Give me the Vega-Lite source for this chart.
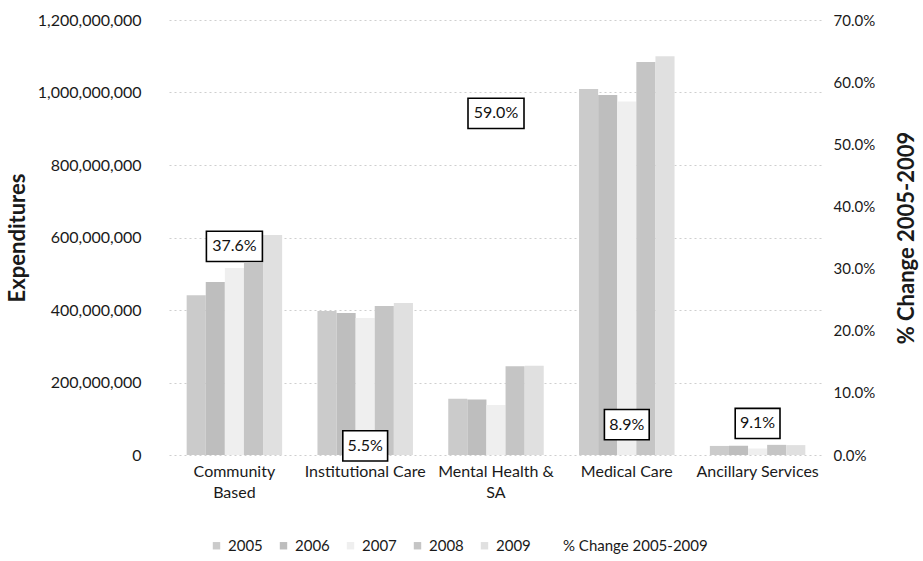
{
  "$schema": "https://vega.github.io/schema/vega-lite/v6.json",
  "autosize": {"type": "none"},
  "width": 654,
  "height": 435,
  "padding": {"left": 169, "top": 20, "right": 100, "bottom": 106},
  "background": "white",
  "config": {
    "font": "Lato",
    "view": {"stroke": null},
    "axis": {"labelColor": "#1a1a1a", "titleColor": "#1a1a1a", "ticks": false, "domain": false}
  },
  "datasets": {
    "spend": [
      {"category": "Community Based", "year": "2005", "amount": 441000000},
      {"category": "Community Based", "year": "2006", "amount": 477000000},
      {"category": "Community Based", "year": "2007", "amount": 516000000},
      {"category": "Community Based", "year": "2008", "amount": 530000000},
      {"category": "Community Based", "year": "2009", "amount": 607000000},
      {"category": "Institutional Care", "year": "2005", "amount": 397000000},
      {"category": "Institutional Care", "year": "2006", "amount": 392000000},
      {"category": "Institutional Care", "year": "2007", "amount": 378000000},
      {"category": "Institutional Care", "year": "2008", "amount": 411000000},
      {"category": "Institutional Care", "year": "2009", "amount": 419000000},
      {"category": "Mental Health & SA", "year": "2005", "amount": 155000000},
      {"category": "Mental Health & SA", "year": "2006", "amount": 153000000},
      {"category": "Mental Health & SA", "year": "2007", "amount": 138000000},
      {"category": "Mental Health & SA", "year": "2008", "amount": 245000000},
      {"category": "Mental Health & SA", "year": "2009", "amount": 246500000},
      {"category": "Medical Care", "year": "2005", "amount": 1010000000},
      {"category": "Medical Care", "year": "2006", "amount": 993000000},
      {"category": "Medical Care", "year": "2007", "amount": 975000000},
      {"category": "Medical Care", "year": "2008", "amount": 1084000000},
      {"category": "Medical Care", "year": "2009", "amount": 1100000000},
      {"category": "Ancillary Services", "year": "2005", "amount": 25000000},
      {"category": "Ancillary Services", "year": "2006", "amount": 25500000},
      {"category": "Ancillary Services", "year": "2007", "amount": 18000000},
      {"category": "Ancillary Services", "year": "2008", "amount": 28000000},
      {"category": "Ancillary Services", "year": "2009", "amount": 27300000}
    ],
    "change": [
      {"category": "Community Based", "pct": 0.376},
      {"category": "Institutional Care", "pct": 0.055},
      {"category": "Mental Health & SA", "pct": 0.59},
      {"category": "Medical Care", "pct": 0.089},
      {"category": "Ancillary Services", "pct": 0.091}
    ]
  },
  "encoding": {
    "x": {
      "field": "category",
      "type": "nominal",
      "sort": ["Community Based", "Institutional Care", "Mental Health & SA", "Medical Care", "Ancillary Services"],
      "scale": {"paddingInner": 0.27, "paddingOuter": 0.135},
      "axis": {
        "title": null,
        "labelAngle": 0,
        "labelFontSize": 16,
        "labelPadding": 8,
        "labelLineHeight": 21,
        "labelBaseline": "top",
        "labelExpr": "datum.label == 'Community Based' ? ['Community', 'Based'] : datum.label == 'Mental Health & SA' ? ['Mental Health &', 'SA'] : datum.label"
      }
    }
  },
  "layer": [
    {
      "data": {"name": "spend"},
      "mark": {"type": "bar"},
      "encoding": {
        "xOffset": {"field": "year", "type": "nominal", "scale": {"paddingInner": 0, "paddingOuter": 0}},
        "y": {
          "field": "amount",
          "type": "quantitative",
          "scale": {"domain": [0, 1200000000]},
          "axis": {
            "orient": "left",
            "title": "Expenditures",
            "titleFontSize": 22,
            "titleFontWeight": "bold",
            "titlePadding": 8,
            "format": ",.0f",
            "values": [0, 200000000, 400000000, 600000000, 800000000, 1000000000, 1200000000],
            "labelFontSize": 16,
            "labelPadding": 28,
            "grid": true,
            "gridColor": "#cfcfcf",
            "gridDash": [2, 3],
            "gridWidth": 1
          }
        },
        "color": {
          "field": "year",
          "type": "nominal",
          "scale": {
            "domain": ["2005", "2006", "2007", "2008", "2009", "% Change 2005-2009"],
            "range": ["#cbcbcb", "#bebebe", "#efefef", "#c5c5c5", "#e0e0e0", "#ffffff"]
          },
          "legend": {
            "title": null,
            "orient": "none",
            "legendX": 40,
            "legendY": 518,
            "direction": "horizontal",
            "symbolType": "square",
            "symbolSize": 55,
            "symbolStrokeWidth": 0,
            "labelFontSize": 15,
            "labelColor": "#1a1a1a",
            "columnPadding": 13
          }
        }
      }
    },
    {
      "data": {"name": "change"},
      "encoding": {
        "y": {
          "field": "pct",
          "type": "quantitative",
          "scale": {"domain": [0, 0.7]},
          "axis": {
            "orient": "right",
            "title": "% Change 2005-2009",
            "titleAngle": 270,
            "titleFontSize": 22,
            "titleFontWeight": "bold",
            "titlePadding": 44,
            "format": ".1%",
            "values": [0, 0.1, 0.2, 0.3, 0.4, 0.5, 0.6, 0.7],
            "labelFontSize": 15,
            "labelPadding": 10,
            "grid": false
          }
        }
      },
      "layer": [
        {
          "mark": {"type": "point", "filled": true, "fill": "white", "stroke": "black", "strokeWidth": 1.6, "opacity": 1, "size": 3136, "yOffset": 25},
          "encoding": {
            "shape": {
              "condition": {"test": "datum.pct >= 0.1", "value": "M-1,-0.54L1,-0.54L1,0.54L-1,0.54Z"},
              "value": "M-0.8,-0.54L0.8,-0.54L0.8,0.54L-0.8,0.54Z"
            }
          }
        },
        {
          "mark": {"type": "text", "fontSize": 16, "color": "#111", "baseline": "middle", "align": "center", "dy": 25},
          "encoding": {"text": {"field": "pct", "type": "quantitative", "format": ".1%"}}
        }
      ]
    }
  ],
  "resolve": {"scale": {"y": "independent"}, "axis": {"y": "independent"}}
}
